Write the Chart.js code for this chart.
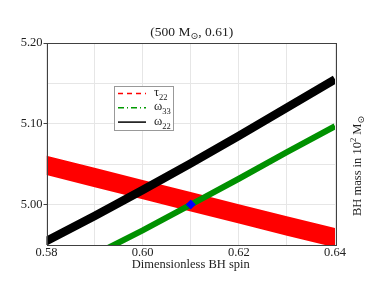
<!DOCTYPE html>
<html>
<head>
<meta charset="utf-8">
<script src="https://cdn.jsdelivr.net/npm/chart.js@4/dist/chart.umd.min.js"></script>
<style>
html,body{margin:0;padding:0;background:#fff;}
#wrap{width:374px;height:289px;position:relative;}
</style>
</head>
<body>
<div id="wrap"><canvas id="c" width="374" height="289"></canvas></div>
<script>
// ---- data ----
const spin = [0.57, 0.58, 0.59, 0.60, 0.61, 0.62, 0.63, 0.64, 0.65];
const tau22Upper = [5.0755, 5.0605, 5.0455, 5.0305, 5.0155, 5.0005, 4.9855, 4.9710, 4.9560];
const tau22Lower = [5.0515, 5.0365, 5.0215, 5.0065, 4.9915, 4.9765, 4.9615, 4.9470, 4.9320];
const omega33 = [4.878, 4.908, 4.938, 4.968, 5.000, 5.032, 5.065, 5.097, 5.130];
const omega22 = [4.925, 4.955, 4.986, 5.018, 5.051, 5.085, 5.120, 5.155, 5.190];
const marker = {x: 0.61, y: 5.00};
const xTickLabels = ['0.58', '0.60', '0.62', '0.64'];
const yTickLabels = ['5.00', '5.10', '5.20'];
const legendItems = [
  {name: 'τ', sub: '22', color: '#ff0000', dash: [5, 4]},
  {name: 'ω', sub: '33', color: '#009900', dash: [6, 3, 1, 3]},
  {name: 'ω', sub: '22', color: '#000000', dash: []}
];

const pts = arr => spin.map((s, i) => ({x: s, y: arr[i]}));
const SERIF = '"Liberation Serif", "DejaVu Serif", serif';

function drawRich(ctx, parts, x, y, align) {
  let w = 0;
  parts.forEach(p => { ctx.font = p.size + 'px ' + (p.font || SERIF); p.w = ctx.measureText(p.t).width; w += p.w; });
  let cx = align === 'center' ? x - w / 2 : x;
  parts.forEach(p => {
    ctx.font = p.size + 'px ' + (p.font || SERIF);
    ctx.fillText(p.t, cx, y + (p.dy || 0));
    cx += p.w;
  });
}

const decor = {
  id: 'decor',
  afterDraw(chart) {
    const ctx = chart.ctx, a = chart.chartArea;
    ctx.save();
    // frame
    ctx.strokeStyle = '#404040';
    ctx.lineWidth = 1;
    ctx.strokeRect(Math.round(a.left) + 0.5, Math.round(a.top) + 0.5, Math.round(a.right - a.left), Math.round(a.bottom - a.top));
    ctx.fillStyle = '#222';
    ctx.textBaseline = 'alphabetic';
    // title
    drawRich(ctx, [
      {t: '(500 M', size: 13.5},
      {t: '⊙', size: 9.5, dy: 3, font: '"DejaVu Sans", sans-serif'},
      {t: ', 0.61)', size: 13.5}
    ], (a.left + a.right) / 2 + 1, 36, 'center');
    // x title
    drawRich(ctx, [{t: 'Dimensionless BH spin', size: 12.5}], (a.left + a.right) / 2, 268, 'center');
    // right title (rotated)
    ctx.save();
    ctx.translate(361, 166);
    ctx.rotate(-Math.PI / 2);
    drawRich(ctx, [
      {t: 'BH mass in 10', size: 12.5},
      {t: '2', size: 8.5, dy: -5},
      {t: ' M', size: 12.5},
      {t: '⊙', size: 9, dy: 3, font: '"DejaVu Sans", sans-serif'}
    ], 0, 0, 'center');
    ctx.restore();
    // legend
    const lx = 114.5, ly = 86.5, lw = 59, lh = 44;
    ctx.fillStyle = '#fff';
    ctx.fillRect(lx, ly, lw, lh);
    ctx.strokeStyle = '#999';
    ctx.lineWidth = 1;
    ctx.strokeRect(lx, ly, lw, lh);
    legendItems.forEach((it, i) => {
      const y = 93.5 + i * 14.3;
      ctx.beginPath();
      ctx.setLineDash(it.dash);
      ctx.strokeStyle = it.color;
      ctx.lineWidth = 1.5;
      ctx.moveTo(118, y);
      ctx.lineTo(146, y);
      ctx.stroke();
      ctx.setLineDash([]);
      ctx.fillStyle = '#222';
      drawRich(ctx, [
        {t: it.name, size: 12.5},
        {t: it.sub, size: 8.5, dy: 4}
      ], 154, y + 2.5, 'left');
    });
    ctx.restore();
  }
};

const labeled = (list) => (c) => (c.tick && list.includes(Number(c.tick.value).toFixed(2))) ? '#404040' : 'rgba(0,0,0,0)';

new Chart(document.getElementById('c'), {
  type: 'line',
  data: {
    datasets: [
      {label: 'tau22 upper', data: pts(tau22Upper), borderWidth: 0, borderColor: 'rgba(0,0,0,0)', pointRadius: 0, fill: false, order: 5},
      {label: 'tau22 lower', data: pts(tau22Lower), borderWidth: 0, borderColor: 'rgba(0,0,0,0)', pointRadius: 0, fill: '-1', backgroundColor: '#ff0000', order: 5},
      {label: 'omega33', data: pts(omega33), borderColor: '#009100', borderWidth: 6, pointRadius: 0, fill: false, order: 3},
      {label: 'omega22', data: pts(omega22), borderColor: '#000000', borderWidth: 8.5, pointRadius: 0, fill: false, order: 2},
      {label: 'marker', data: [marker], pointStyle: 'rectRot', pointRadius: 5, backgroundColor: '#0000ff', borderColor: '#0000ff', borderWidth: 0, showLine: false, order: 1}
    ]
  },
  options: {
    responsive: false,
    animation: false,
    layout: {padding: {left: 0, right: 39, top: 43, bottom: 0}},
    plugins: {legend: {display: false}, tooltip: {enabled: false}, title: {display: false}},
    scales: {
      x: {
        type: 'linear', min: 0.58, max: 0.64,
        afterFit: s => { s.height = 44; },
        afterBuildTicks: s => { s.ticks = [0.58,0.59,0.60,0.61,0.62,0.63,0.64].map(v => ({value: v})); },
        ticks: {
          autoSkip: false, maxRotation: 0, padding: 0, color: '#222',
          font: {family: SERIF, size: 12.5},
          callback: (v) => { const s = v.toFixed(2); return xTickLabels.includes(s) ? s : ''; }
        },
        grid: {color: '#e6e6e6', tickLength: 0, lineWidth: 1},
        border: {display: false}
      },
      y: {
        type: 'linear', min: 4.95, max: 5.20,
        afterFit: s => { s.width = 46.5; },
        afterBuildTicks: s => { s.ticks = [4.95,5.00,5.05,5.10,5.15,5.20].map(v => ({value: v})); },
        ticks: {
          autoSkip: false, padding: 1, color: '#222',
          font: {family: SERIF, size: 12.5},
          callback: (v) => { const s = v.toFixed(2); return yTickLabels.includes(s) ? s : ''; }
        },
        grid: {color: '#e6e6e6', tickLength: 3, tickColor: labeled(yTickLabels), lineWidth: 1},
        border: {display: false}
      }
    }
  },
  plugins: [decor]
});
</script>
</body>
</html>
